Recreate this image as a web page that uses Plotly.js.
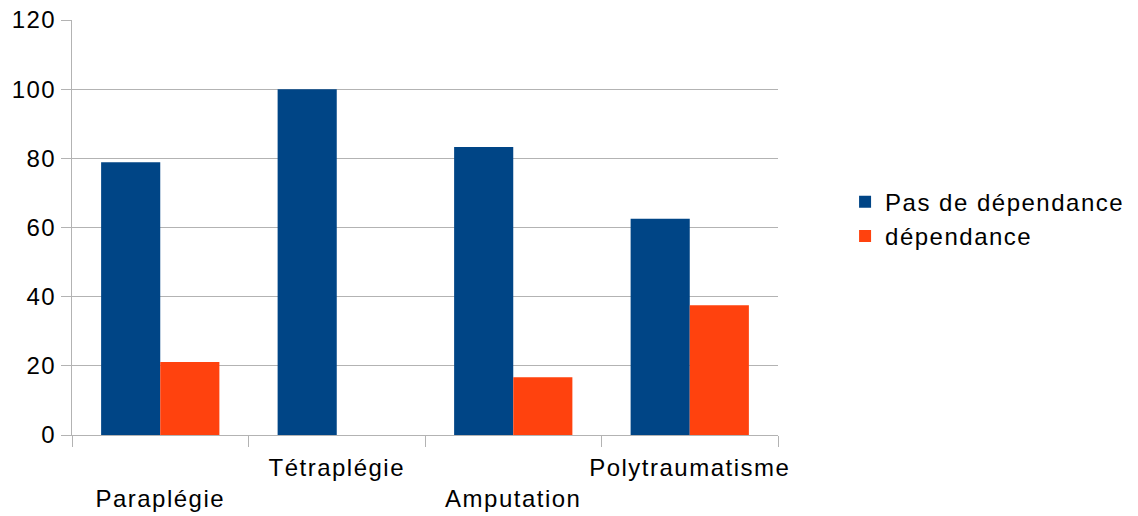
<!DOCTYPE html>
<html>
<head>
<meta charset="utf-8">
<script src="https://cdn.plot.ly/plotly-3.0.1.min.js"></script>
<style>html,body{margin:0;padding:0;background:#fff;}#chart{width:1138px;height:516px;}svg text{letter-spacing:1.5px;}</style>
</head>
<body>
<div id="chart"></div>
<script>
var categories = ["Paraplégie", "Tétraplégie", "Amputation", "Polytraumatisme"];
var tickLabels = [" <br>Paraplégie", "Tétraplégie", " <br>Amputation", "Polytraumatisme"];
var pasDeDependance = [78.9, 100, 83.3, 62.5];
var dependance = [21.1, 0, 16.7, 37.5];
var seriesNames = ["Pas de dépendance", "dépendance"];

var font = "Liberation Sans, Arial, sans-serif";
var traces = [
  {type: "bar", x: categories, y: pasDeDependance, name: seriesNames[0], marker: {color: "#004586"}},
  {type: "bar", x: categories, y: dependance, name: seriesNames[1], marker: {color: "#ff420e"}}
];
var layout = {
  width: 1138, height: 516,
  margin: {l: 72, r: 360, t: 20, b: 81, autoexpand: false},
  paper_bgcolor: "#fff", plot_bgcolor: "#fff",
  font: {family: font, size: 24, color: "#000"},
  barmode: "group", bargap: 0.33, bargroupgap: 0,
  showlegend: true,
  legend: {x: 1.095, y: 0.52, xanchor: "left", yanchor: "middle", font: {size: 24}, tracegroupgap: 0},
  xaxis: {
    type: "category", tickmode: "array", tickvals: categories, ticktext: tickLabels,
    tickangle: 0, ticklabelstandoff: 11,
    showline: true, linecolor: "#b3b3b3", linewidth: 1,
    ticks: "outside", tickson: "boundaries", ticklen: 11, tickcolor: "#b3b3b3",
    showgrid: false, tickfont: {size: 24}
  },
  yaxis: {
    range: [0, 120], dtick: 20, tick0: 0,
    showline: true, linecolor: "#b3b3b3", linewidth: 1,
    ticks: "outside", ticklen: 10, tickcolor: "#b3b3b3",
    showgrid: true, gridcolor: "#b3b3b3", gridwidth: 1,
    zeroline: false, tickfont: {size: 24}
  }
};
Plotly.newPlot("chart", traces, layout, {displayModeBar: false, staticPlot: true});
</script>
</body>
</html>
